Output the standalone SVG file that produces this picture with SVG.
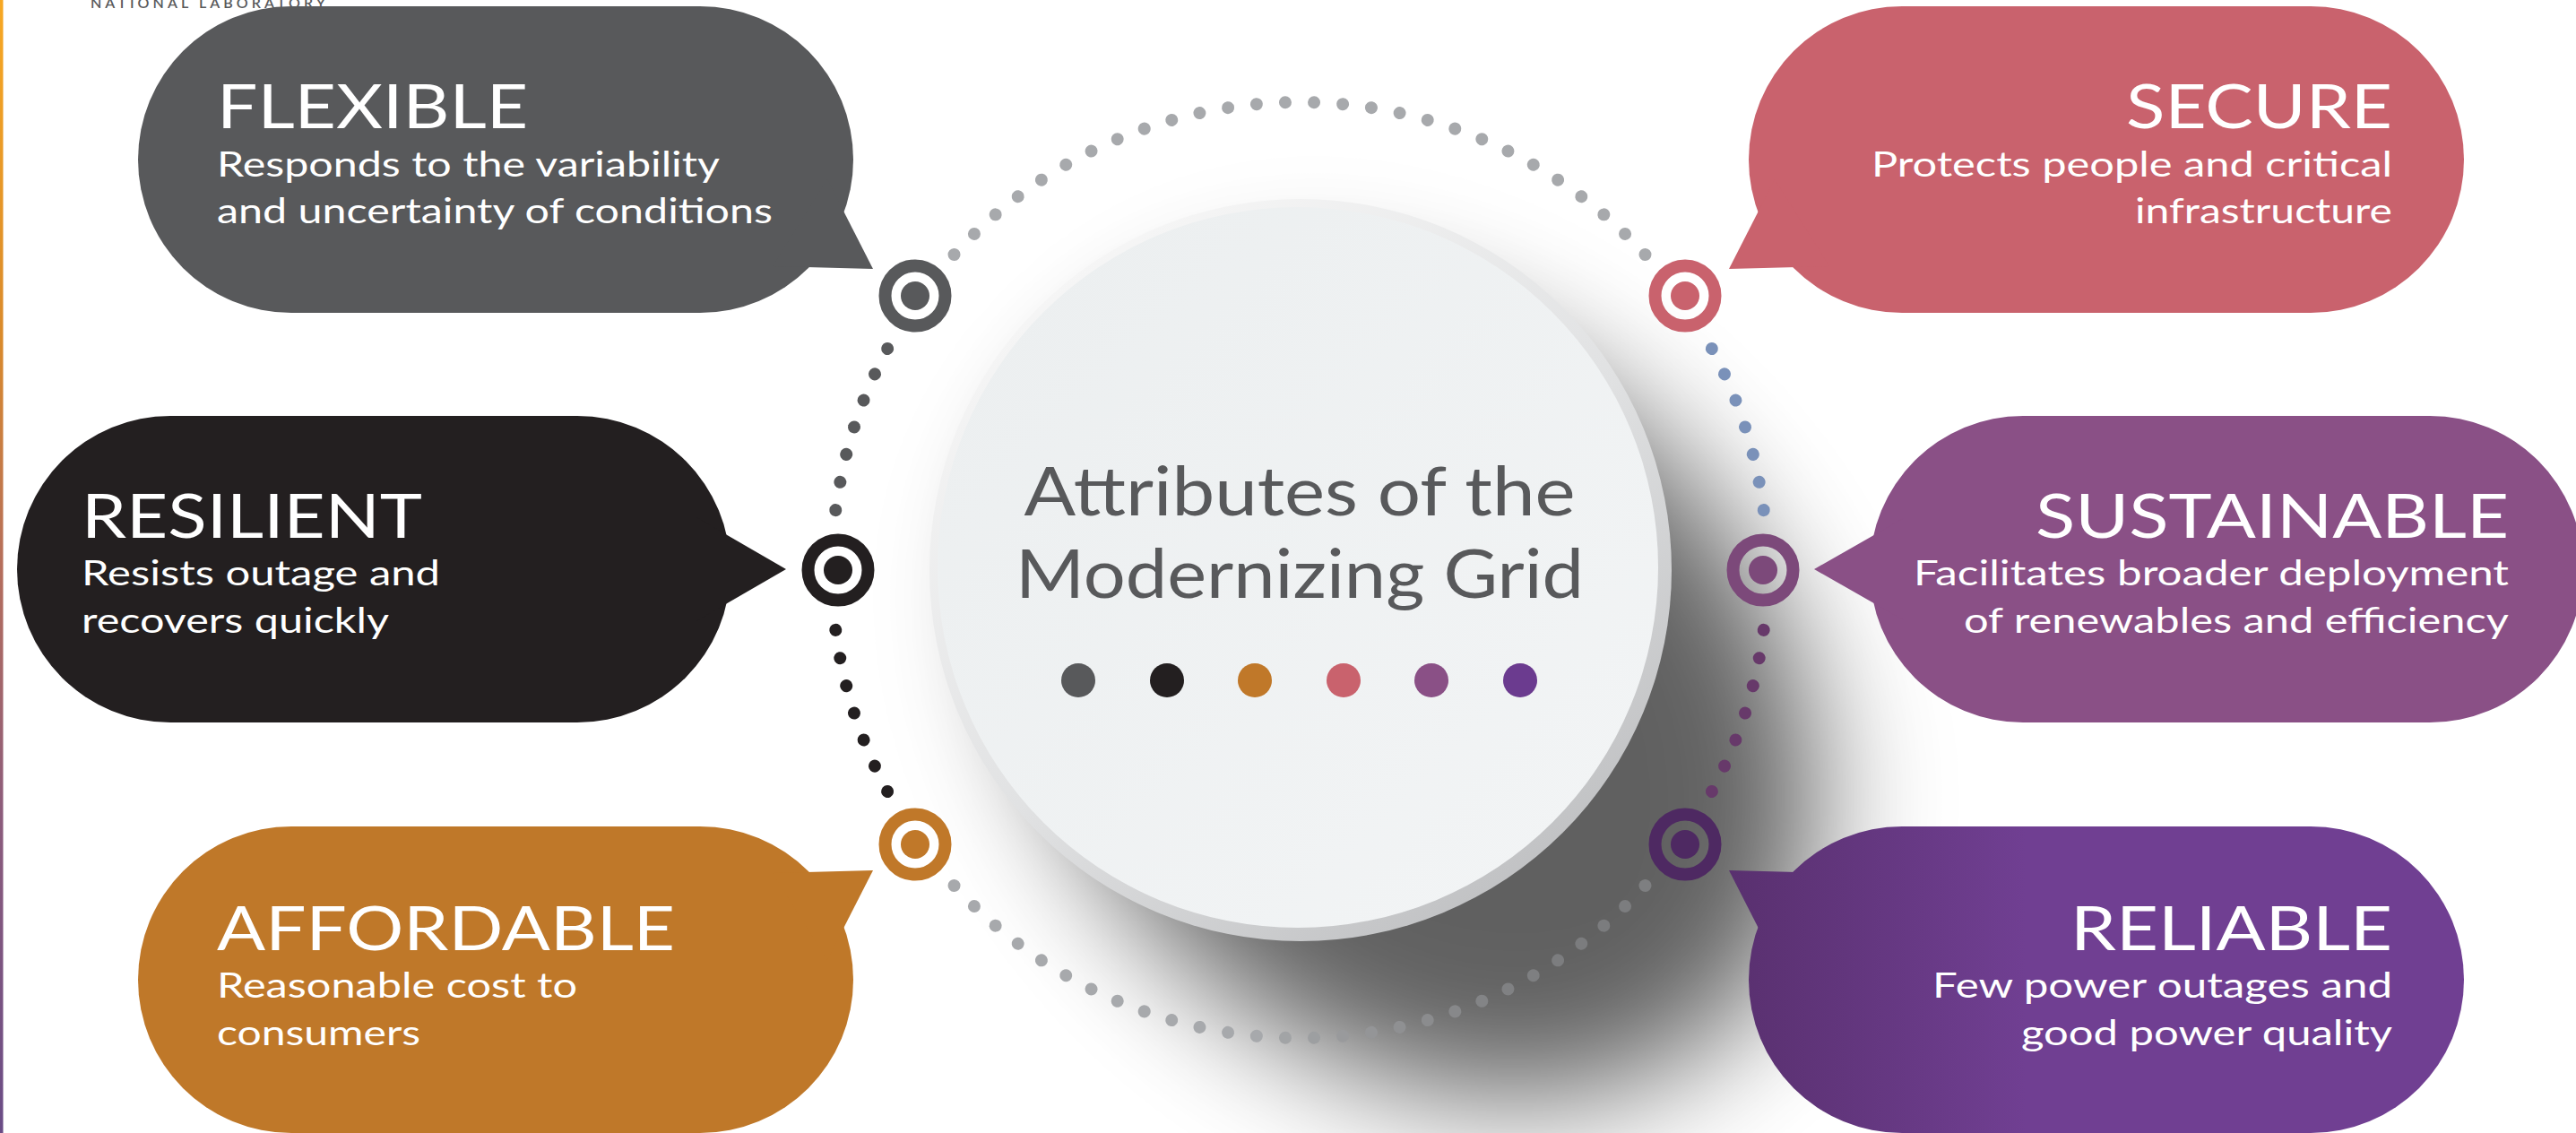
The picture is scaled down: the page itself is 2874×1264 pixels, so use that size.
<svg xmlns="http://www.w3.org/2000/svg" width="2874" height="1264" viewBox="0 0 2874 1264">
<style>
text { font-family: Lato, "Liberation Sans", sans-serif; }
.h { font-size: 67px; fill: #ffffff; }
.s { font-size: 38px; fill: #ffffff; }
.t { font-size: 75px; fill: #58595B; }
.ring { fill: none; stroke-width: 14; }
</style>
<defs>
  <linearGradient id="strip" x1="0" y1="0" x2="0" y2="1">
    <stop offset="0" stop-color="#F7A823"/>
    <stop offset="0.3" stop-color="#D98A2C"/>
    <stop offset="0.5" stop-color="#B56E5C"/>
    <stop offset="0.72" stop-color="#8C5C7C"/>
    <stop offset="1" stop-color="#6A4C86"/>
  </linearGradient>
  <linearGradient id="rim" x1="0.2" y1="0.08" x2="0.85" y2="0.95">
    <stop offset="0" stop-color="#F6F6F6"/>
    <stop offset="0.5" stop-color="#E1E2E3"/>
    <stop offset="1" stop-color="#BDBEC0"/>
  </linearGradient>
  <linearGradient id="face" x1="0.1" y1="0.1" x2="0.9" y2="0.9">
    <stop offset="0" stop-color="#ECEFF0"/>
    <stop offset="1" stop-color="#F2F4F5"/>
  </linearGradient>
  <linearGradient id="relg" gradientUnits="userSpaceOnUse" x1="1930" y1="0" x2="2260" y2="0">
    <stop offset="0" stop-color="#59306F"/>
    <stop offset="1" stop-color="#703F92"/>
  </linearGradient>
  <filter id="blur" x="-40%" y="-40%" width="180%" height="180%">
    <feGaussianBlur stdDeviation="70"/>
  </filter>
</defs>

<rect width="2874" height="1264" fill="#ffffff"/>
<rect x="0" y="0" width="3.5" height="1264" fill="url(#strip)"/>
<text x="101" y="9" font-size="16" fill="#58595B" textLength="262" lengthAdjust="spacing" font-weight="600">NATIONAL LABORATORY</text>

<ellipse id="shadow" cx="1580" cy="780" rx="500" ry="385" transform="rotate(45 1580 780)" fill="#000000" opacity="0.62" filter="url(#blur)"/>

<g id="flexible">
  <rect x="154" y="7" width="798" height="342" rx="171" fill="#58595B"/>
  <polygon points="923,200 974,300 862,297" fill="#58595B"/>
  <text class="h" x="242" y="143" textLength="347" lengthAdjust="spacingAndGlyphs">FLEXIBLE</text>
  <text class="s" x="242" y="197" textLength="561" lengthAdjust="spacingAndGlyphs">Responds to the variability</text>
  <text class="s" x="242" y="249" textLength="620" lengthAdjust="spacingAndGlyphs">and uncertainty of conditions</text>
</g>
<g id="secure">
  <rect x="1951" y="7" width="798" height="342" rx="171" fill="#C9626D"/>
  <polygon points="1980,200 1929,300 2041,297" fill="#C9626D"/>
  <text class="h" x="2669" y="143" text-anchor="end" textLength="297" lengthAdjust="spacingAndGlyphs">SECURE</text>
  <text class="s" x="2669" y="197" text-anchor="end" textLength="581" lengthAdjust="spacingAndGlyphs">Protects people and critical</text>
  <text class="s" x="2669" y="249" text-anchor="end" textLength="287" lengthAdjust="spacingAndGlyphs">infrastructure</text>
</g>
<g id="resilient">
  <rect x="19" y="464" width="796" height="342" rx="171" fill="#231F20"/>
  <polygon points="775,576 877,635 775,694" fill="#231F20"/>
  <text class="h" x="91" y="600" textLength="380" lengthAdjust="spacingAndGlyphs">RESILIENT</text>
  <text class="s" x="91" y="653" textLength="400" lengthAdjust="spacingAndGlyphs">Resists outage and</text>
  <text class="s" x="91" y="706" textLength="343" lengthAdjust="spacingAndGlyphs">recovers quickly</text>
</g>
<g id="sustainable">
  <rect x="2086" y="464" width="796" height="342" rx="171" fill="#8A5086"/>
  <polygon points="2124,578 2024,635 2124,692" fill="#8A5086"/>
  <text class="h" x="2799" y="600" text-anchor="end" textLength="528" lengthAdjust="spacingAndGlyphs">SUSTAINABLE</text>
  <text class="s" x="2799" y="653" text-anchor="end" textLength="664" lengthAdjust="spacingAndGlyphs">Facilitates broader deployment</text>
  <text class="s" x="2799" y="706" text-anchor="end" textLength="608" lengthAdjust="spacingAndGlyphs">of renewables and efficiency</text>
</g>
<g id="affordable">
  <rect x="154" y="922" width="798" height="342" rx="171" fill="#BF7829"/>
  <polygon points="923,1071 974,971 862,974" fill="#BF7829"/>
  <text class="h" x="242" y="1060" textLength="511" lengthAdjust="spacingAndGlyphs">AFFORDABLE</text>
  <text class="s" x="242" y="1113" textLength="402" lengthAdjust="spacingAndGlyphs">Reasonable cost to</text>
  <text class="s" x="242" y="1166" textLength="227" lengthAdjust="spacingAndGlyphs">consumers</text>
</g>
<g id="reliable">
  <rect x="1951" y="922" width="798" height="342" rx="171" fill="url(#relg)"/>
  <polygon points="1980,1071 1929,971 2041,974" fill="url(#relg)"/>
  <text class="h" x="2669" y="1060" text-anchor="end" textLength="359" lengthAdjust="spacingAndGlyphs">RELIABLE</text>
  <text class="s" x="2669" y="1113" text-anchor="end" textLength="513" lengthAdjust="spacingAndGlyphs">Few power outages and</text>
  <text class="s" x="2669" y="1166" text-anchor="end" textLength="414" lengthAdjust="spacingAndGlyphs">good power quality</text>
</g>

<g id="connectors">
  <g id="dots-top" fill="#A7A9AC">
    <circle cx="1972" cy="636" r="7" transform="rotate(222.40 1450 636)"/>
    <circle cx="1972" cy="636" r="7" transform="rotate(225.93 1450 636)"/>
    <circle cx="1972" cy="636" r="7" transform="rotate(229.45 1450 636)"/>
    <circle cx="1972" cy="636" r="7" transform="rotate(232.98 1450 636)"/>
    <circle cx="1972" cy="636" r="7" transform="rotate(236.50 1450 636)"/>
    <circle cx="1972" cy="636" r="7" transform="rotate(240.03 1450 636)"/>
    <circle cx="1972" cy="636" r="7" transform="rotate(243.56 1450 636)"/>
    <circle cx="1972" cy="636" r="7" transform="rotate(247.08 1450 636)"/>
    <circle cx="1972" cy="636" r="7" transform="rotate(250.61 1450 636)"/>
    <circle cx="1972" cy="636" r="7" transform="rotate(254.13 1450 636)"/>
    <circle cx="1972" cy="636" r="7" transform="rotate(257.66 1450 636)"/>
    <circle cx="1972" cy="636" r="7" transform="rotate(261.19 1450 636)"/>
    <circle cx="1972" cy="636" r="7" transform="rotate(264.71 1450 636)"/>
    <circle cx="1972" cy="636" r="7" transform="rotate(268.24 1450 636)"/>
    <circle cx="1972" cy="636" r="7" transform="rotate(271.76 1450 636)"/>
    <circle cx="1972" cy="636" r="7" transform="rotate(275.29 1450 636)"/>
    <circle cx="1972" cy="636" r="7" transform="rotate(278.81 1450 636)"/>
    <circle cx="1972" cy="636" r="7" transform="rotate(282.34 1450 636)"/>
    <circle cx="1972" cy="636" r="7" transform="rotate(285.87 1450 636)"/>
    <circle cx="1972" cy="636" r="7" transform="rotate(289.39 1450 636)"/>
    <circle cx="1972" cy="636" r="7" transform="rotate(292.92 1450 636)"/>
    <circle cx="1972" cy="636" r="7" transform="rotate(296.44 1450 636)"/>
    <circle cx="1972" cy="636" r="7" transform="rotate(299.97 1450 636)"/>
    <circle cx="1972" cy="636" r="7" transform="rotate(303.50 1450 636)"/>
    <circle cx="1972" cy="636" r="7" transform="rotate(307.02 1450 636)"/>
    <circle cx="1972" cy="636" r="7" transform="rotate(310.55 1450 636)"/>
    <circle cx="1972" cy="636" r="7" transform="rotate(314.07 1450 636)"/>
    <circle cx="1972" cy="636" r="7" transform="rotate(317.60 1450 636)"/>
  </g>
  <g id="dots-bottom">
    <circle cx="1972" cy="636" r="7" fill="#7E7F81" transform="rotate(42.40 1450 636)"/>
    <circle cx="1972" cy="636" r="7" fill="#7C7D7F" transform="rotate(45.93 1450 636)"/>
    <circle cx="1972" cy="636" r="7" fill="#7B7C7E" transform="rotate(49.45 1450 636)"/>
    <circle cx="1972" cy="636" r="7" fill="#7B7C7E" transform="rotate(52.98 1450 636)"/>
    <circle cx="1972" cy="636" r="7" fill="#7C7D7F" transform="rotate(56.50 1450 636)"/>
    <circle cx="1972" cy="636" r="7" fill="#7E7F81" transform="rotate(60.03 1450 636)"/>
    <circle cx="1972" cy="636" r="7" fill="#808183" transform="rotate(63.56 1450 636)"/>
    <circle cx="1972" cy="636" r="7" fill="#838486" transform="rotate(67.08 1450 636)"/>
    <circle cx="1972" cy="636" r="7" fill="#87888A" transform="rotate(70.61 1450 636)"/>
    <circle cx="1972" cy="636" r="7" fill="#8B8C8E" transform="rotate(74.13 1450 636)"/>
    <circle cx="1972" cy="636" r="7" fill="#8F9092" transform="rotate(77.66 1450 636)"/>
    <circle cx="1972" cy="636" r="7" fill="#949597" transform="rotate(81.19 1450 636)"/>
    <circle cx="1972" cy="636" r="7" fill="#999A9C" transform="rotate(84.71 1450 636)"/>
    <circle cx="1972" cy="636" r="7" fill="#9D9FA1" transform="rotate(88.24 1450 636)"/>
    <circle cx="1972" cy="636" r="7" fill="#A2A4A6" transform="rotate(91.76 1450 636)"/>
    <circle cx="1972" cy="636" r="7" fill="#A7A9AC" transform="rotate(95.29 1450 636)"/>
    <circle cx="1972" cy="636" r="7" fill="#A7A9AC" transform="rotate(98.81 1450 636)"/>
    <circle cx="1972" cy="636" r="7" fill="#A7A9AC" transform="rotate(102.34 1450 636)"/>
    <circle cx="1972" cy="636" r="7" fill="#A7A9AC" transform="rotate(105.87 1450 636)"/>
    <circle cx="1972" cy="636" r="7" fill="#A7A9AC" transform="rotate(109.39 1450 636)"/>
    <circle cx="1972" cy="636" r="7" fill="#A7A9AC" transform="rotate(112.92 1450 636)"/>
    <circle cx="1972" cy="636" r="7" fill="#A7A9AC" transform="rotate(116.44 1450 636)"/>
    <circle cx="1972" cy="636" r="7" fill="#A7A9AC" transform="rotate(119.97 1450 636)"/>
    <circle cx="1972" cy="636" r="7" fill="#A7A9AC" transform="rotate(123.50 1450 636)"/>
    <circle cx="1972" cy="636" r="7" fill="#A7A9AC" transform="rotate(127.02 1450 636)"/>
    <circle cx="1972" cy="636" r="7" fill="#A7A9AC" transform="rotate(130.55 1450 636)"/>
    <circle cx="1972" cy="636" r="7" fill="#A7A9AC" transform="rotate(134.07 1450 636)"/>
    <circle cx="1972" cy="636" r="7" fill="#A7A9AC" transform="rotate(137.60 1450 636)"/>
  </g>
  <g id="dots-left-upper" fill="#58595B">
    <circle cx="1972" cy="636" r="7" transform="rotate(187.36 1450 636)"/>
    <circle cx="1972" cy="636" r="7" transform="rotate(190.84 1450 636)"/>
    <circle cx="1972" cy="636" r="7" transform="rotate(194.32 1450 636)"/>
    <circle cx="1972" cy="636" r="7" transform="rotate(197.80 1450 636)"/>
    <circle cx="1972" cy="636" r="7" transform="rotate(201.28 1450 636)"/>
    <circle cx="1972" cy="636" r="7" transform="rotate(204.76 1450 636)"/>
    <circle cx="1972" cy="636" r="7" transform="rotate(208.24 1450 636)"/>
  </g>
  <g id="dots-left-lower" fill="#231F20">
    <circle cx="1972" cy="636" r="7" transform="rotate(151.76 1450 636)"/>
    <circle cx="1972" cy="636" r="7" transform="rotate(155.24 1450 636)"/>
    <circle cx="1972" cy="636" r="7" transform="rotate(158.72 1450 636)"/>
    <circle cx="1972" cy="636" r="7" transform="rotate(162.20 1450 636)"/>
    <circle cx="1972" cy="636" r="7" transform="rotate(165.68 1450 636)"/>
    <circle cx="1972" cy="636" r="7" transform="rotate(169.16 1450 636)"/>
    <circle cx="1972" cy="636" r="7" transform="rotate(172.64 1450 636)"/>
  </g>
  <g id="dots-right-upper" fill="#7A91B9">
    <circle cx="1972" cy="636" r="7" transform="rotate(331.76 1450 636)"/>
    <circle cx="1972" cy="636" r="7" transform="rotate(335.24 1450 636)"/>
    <circle cx="1972" cy="636" r="7" transform="rotate(338.72 1450 636)"/>
    <circle cx="1972" cy="636" r="7" transform="rotate(342.20 1450 636)"/>
    <circle cx="1972" cy="636" r="7" transform="rotate(345.68 1450 636)"/>
    <circle cx="1972" cy="636" r="7" transform="rotate(349.16 1450 636)"/>
    <circle cx="1972" cy="636" r="7" transform="rotate(352.64 1450 636)"/>
  </g>
  <g id="dots-right-lower" fill="#67396A">
    <circle cx="1972" cy="636" r="7" transform="rotate(7.36 1450 636)"/>
    <circle cx="1972" cy="636" r="7" transform="rotate(10.84 1450 636)"/>
    <circle cx="1972" cy="636" r="7" transform="rotate(14.32 1450 636)"/>
    <circle cx="1972" cy="636" r="7" transform="rotate(17.80 1450 636)"/>
    <circle cx="1972" cy="636" r="7" transform="rotate(21.28 1450 636)"/>
    <circle cx="1972" cy="636" r="7" transform="rotate(24.76 1450 636)"/>
    <circle cx="1972" cy="636" r="7" transform="rotate(28.24 1450 636)"/>
  </g>
  <g id="ring-flexible"><circle class="ring" cx="1021" cy="330" r="33.5" stroke="#58595B"/><circle cx="1021" cy="330" r="16" fill="#58595B"/></g>
  <g id="ring-resilient"><circle class="ring" cx="935" cy="636" r="33.5" stroke="#231F20"/><circle cx="935" cy="636" r="16" fill="#231F20"/></g>
  <g id="ring-affordable"><circle class="ring" cx="1021" cy="942" r="33.5" stroke="#C07829"/><circle cx="1021" cy="942" r="16" fill="#C07829"/></g>
  <g id="ring-secure"><circle class="ring" cx="1880" cy="330" r="33.5" stroke="#C9626D"/><circle cx="1880" cy="330" r="16" fill="#C9626D"/></g>
  <g id="ring-sustainable"><circle class="ring" cx="1967" cy="636" r="33.5" stroke="#7C497A"/><circle cx="1967" cy="636" r="16" fill="#7C497A"/></g>
  <g id="ring-reliable"><circle class="ring" cx="1880" cy="942" r="33.5" stroke="#4E2962"/><circle cx="1880" cy="942" r="16" fill="#4E2962"/></g>
</g>

<g id="center">
  <circle cx="1451" cy="636" r="414" fill="url(#rim)"/>
  <circle cx="1448" cy="633" r="402" fill="url(#face)"/>
  <text class="t" x="1450" y="575" text-anchor="middle" textLength="615" lengthAdjust="spacingAndGlyphs">Attributes of the</text>
  <text class="t" x="1450" y="667" text-anchor="middle" textLength="634" lengthAdjust="spacingAndGlyphs">Modernizing Grid</text>
  <circle cx="1203" cy="759" r="19" fill="#58595B"/>
  <circle cx="1302" cy="759" r="19" fill="#231F20"/>
  <circle cx="1400" cy="759" r="19" fill="#C07829"/>
  <circle cx="1499" cy="759" r="19" fill="#C9626D"/>
  <circle cx="1597" cy="759" r="19" fill="#8A5086"/>
  <circle cx="1696" cy="759" r="19" fill="#6B3B8F"/>
</g>
</svg>
